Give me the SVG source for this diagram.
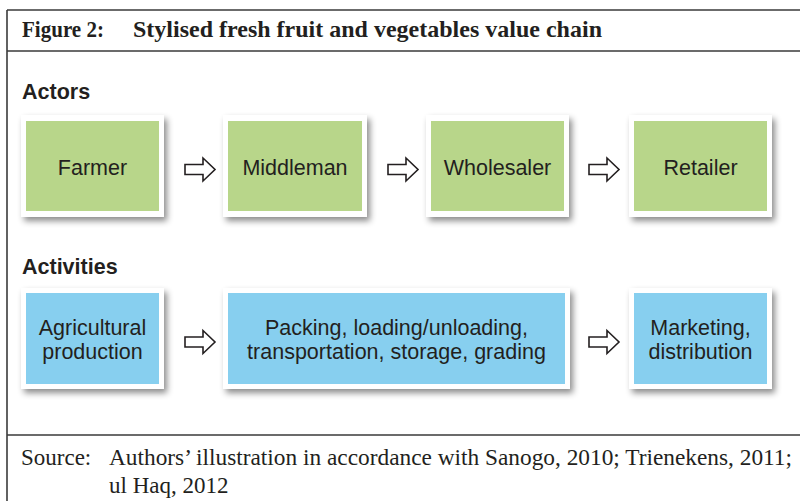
<svg xmlns="http://www.w3.org/2000/svg" width="800" height="501" viewBox="0 0 800 501">
<defs>
<style>
.frame{fill:none;stroke:#3a3a3a;stroke-width:1.6}
.title{font-family:"Liberation Serif","Times New Roman",serif;font-weight:bold;font-size:22.5px;fill:#231f20}
.head{font-family:"Liberation Sans",Arial,sans-serif;font-weight:bold;font-size:21.5px;fill:#231f20}
.lbl{font-family:"Liberation Sans",Arial,sans-serif;font-size:21.5px;fill:#231f20;text-anchor:middle}
.src{font-family:"Liberation Serif","Times New Roman",serif;font-size:23px;fill:#231f20}
.card{fill:#ffffff;filter:url(#sh)}
.green{fill:#b8d68a}
.blue{fill:#87cfef}
.arrow{fill:#ffffff;stroke:#231f20;stroke-width:1.6;stroke-linejoin:miter}
</style>
<filter id="sh" x="-10%" y="-10%" width="130%" height="130%">
<feDropShadow dx="3" dy="4" stdDeviation="3" flood-color="#000" flood-opacity="0.45"/>
</filter>
<path id="arr" class="arrow" d="M0,-5 L18,-5 L18,-11.5 L30,0 L18,11.5 L18,5 L0,5 Z"/>
</defs>
<rect width="800" height="501" fill="#ffffff"/>
<g id="frame">
<line class="frame" x1="7" y1="10" x2="800" y2="10"/>
<line class="frame" x1="7" y1="51" x2="800" y2="51"/>
<line class="frame" x1="7" y1="435" x2="800" y2="435"/>
<line class="frame" x1="7" y1="10" x2="7" y2="501"/>
</g>
<g id="title">
<text class="title" x="22" y="37" textLength="82" lengthAdjust="spacingAndGlyphs">Figure 2:</text>
<text class="title" x="133" y="37" textLength="469" lengthAdjust="spacingAndGlyphs">Stylised fresh fruit and vegetables value chain</text>
</g>
<text class="head" x="22" y="99">Actors</text>
<text class="head" x="22" y="274">Activities</text>
<g id="farmer"><rect class="card" x="21" y="115" width="143" height="102"/><rect class="green" x="26" y="121" width="133" height="90"/><text class="lbl" x="92.5" y="175">Farmer</text></g>
<g id="middleman"><rect class="card" x="223" y="115" width="144" height="102"/><rect class="green" x="228" y="121" width="134" height="90"/><text class="lbl" x="295" y="175">Middleman</text></g>
<g id="wholesaler"><rect class="card" x="426" y="115" width="143" height="102"/><rect class="green" x="431" y="121" width="133" height="90"/><text class="lbl" x="497.5" y="175">Wholesaler</text></g>
<g id="retailer"><rect class="card" x="629" y="115" width="143" height="102"/><rect class="green" x="634" y="121" width="133" height="90"/><text class="lbl" x="700.5" y="175">Retailer</text></g>
<g id="agri"><rect class="card" x="21" y="288" width="143" height="101"/><rect class="blue" x="26" y="293" width="133" height="91"/><text class="lbl" x="92.5" y="335">Agricultural</text><text class="lbl" x="92.5" y="359">production</text></g>
<g id="packing"><rect class="card" x="223" y="288" width="347" height="101"/><rect class="blue" x="228" y="293" width="337" height="91"/><text class="lbl" x="396.5" y="335">Packing, loading/unloading,</text><text class="lbl" x="396.5" y="359">transportation, storage, grading</text></g>
<g id="marketing"><rect class="card" x="629" y="288" width="143" height="101"/><rect class="blue" x="634" y="293" width="133" height="91"/><text class="lbl" x="700.5" y="335">Marketing,</text><text class="lbl" x="700.5" y="359">distribution</text></g>
<g id="connectors">
<use href="#arr" x="185" y="169.5"/>
<use href="#arr" x="388" y="169.5"/>
<use href="#arr" x="589" y="169.5"/>
<use href="#arr" x="185" y="342"/>
<use href="#arr" x="589" y="342"/>
</g>
<g id="source">
<text class="src" x="21" y="465">Source:</text>
<text class="src" x="109" y="465" textLength="683" lengthAdjust="spacingAndGlyphs">Authors’ illustration in accordance with Sanogo, 2010; Trienekens, 2011;</text>
<text class="src" x="109" y="493">ul Haq, 2012</text>
</g>
</svg>
